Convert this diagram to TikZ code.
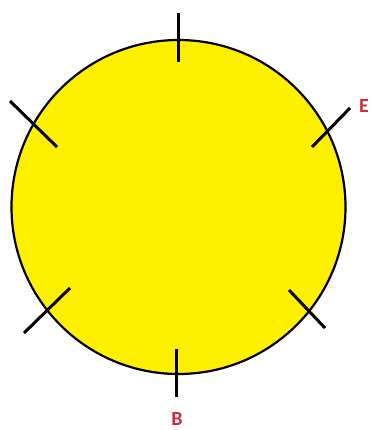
\documentclass[tikz,border=0pt]{standalone}
\usepackage{fontspec}
\setmainfont{Carlito}
\definecolor{sunyellow}{RGB}{255,240,0}
\definecolor{labred}{RGB}{215,40,60}
\begin{document}
\begin{tikzpicture}[x=1pt,y=-1pt,
  tick/.style={line width=3pt,black},
  lab/.style={text=labred,font=\bfseries\fontsize{20}{20}\selectfont,inner sep=0pt}]
\useasboundingbox (0,0) rectangle (371,430);
\fill[white] (0,0) rectangle (371,430);
\node[circle,draw=black,line width=2.2pt,fill=sunyellow,minimum size=334pt,inner sep=0pt] (c) at (178.5,207) {};
\coordinate (t1) at (178,13);  \coordinate (t2) at (178,62);
\coordinate (ul1) at (10,101); \coordinate (ul2) at (57,147);
\coordinate (ur1) at (350,108); \coordinate (ur2) at (312,147);
\coordinate (ll1) at (70,288); \coordinate (ll2) at (24,333);
\coordinate (lr1) at (289,290); \coordinate (lr2) at (325,328);
\coordinate (b1) at (176,349); \coordinate (b2) at (176,397);
\draw[tick] (t1) -- (t2);
\draw[tick] (ul1) -- (ul2);
\draw[tick] (ur1) -- (ur2);
\draw[tick] (ll1) -- (ll2);
\draw[tick] (lr1) -- (lr2);
\draw[tick] (b1) -- (b2);
\node[lab] (E) at (364,106) {E};
\node[lab] (B) at (177,419) {B};
\end{tikzpicture}
\end{document}
